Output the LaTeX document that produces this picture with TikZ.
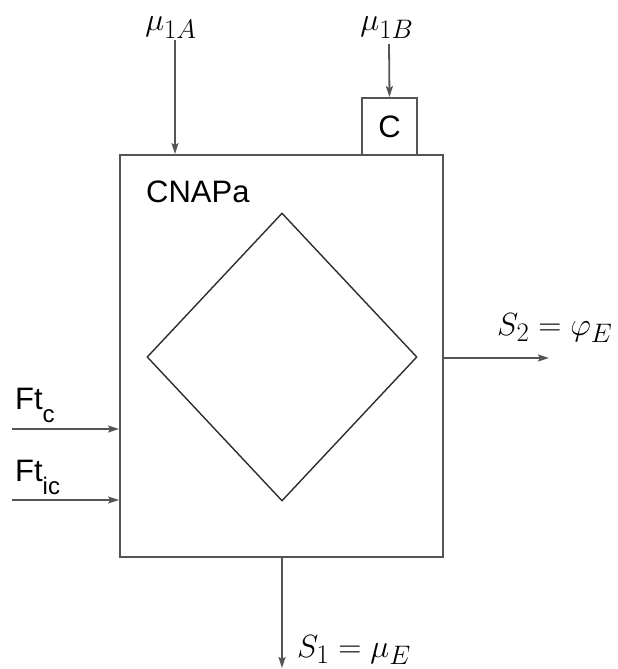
\documentclass[tikz,border=0pt]{standalone}
\usepackage[no-math]{fontspec}
\usepackage{graphicx}
\newfontfamily\labelsans{Liberation Sans}
\usetikzlibrary{arrows.meta,shapes.geometric}
\definecolor{linegray}{RGB}{85,85,85}
\definecolor{diagray}{RGB}{45,45,45}
\tikzset{
  boxstyle/.style={draw=linegray,line width=1.8pt,rectangle,inner sep=0pt},
  arr/.style={draw=linegray,line width=1.8pt,-{Stealth[length=11pt,width=7pt,inset=2pt]}},
  txt/.style={inner sep=0pt,font=\labelsans\fontsize{31}{36}\selectfont},
  mth/.style={inner sep=0pt,font=\Huge},
}
\newcommand{\subsans}[1]{\raisebox{-0.42em}{\fontsize{24}{28}\selectfont #1}}
\newcommand{\bigmath}[1]{\scalebox{1.29}{$#1$}}
\begin{document}
\begin{tikzpicture}[x=1pt,y=-1pt]
\useasboundingbox (0,0) rectangle (618,669);
% main box
\node[boxstyle,minimum width=323pt,minimum height=402pt] (box) at (281.5,356) {};
\node[txt,anchor=base west] (cnapa) at (146,202) {CNAPa};
% diamond
\node[draw=diagray,line width=1.4pt,diamond,inner sep=0pt,minimum width=270pt,minimum height=288pt] (dia) at (282,357) {};
% C box
\node[boxstyle,minimum width=55pt,minimum height=57pt,fill=white] (cbox) at (389.5,126.5) {};
\node[txt] (clab) at (cbox.center) {C};
% top inputs
\coordinate (m1Aend) at (175,40);
\coordinate (m1Bend) at (389,44);
\node[mth,anchor=base] (m1A) at (171,31) {\bigmath{\mu_{1A}}};
\node[mth,anchor=base] (m1B) at (387,31) {\bigmath{\mu_{1B}}};
\draw[arr] (m1Aend) -- (m1Aend |- box.north);
\draw[arr] (m1Bend) -- (cbox.north);
% left inputs
\coordinate (ftcend) at (12,429);
\coordinate (fticend) at (12,500);
\node[txt,anchor=base west] (ftc) at (15,409) {Ft\subsans{c}};
\node[txt,anchor=base west] (ftic) at (15,481) {Ft\subsans{ic}};
\draw[arr] (ftcend) -- (ftcend -| box.west);
\draw[arr] (fticend) -- (fticend -| box.west);
% right output
\coordinate (s2end) at (549,358);
\draw[arr] (s2end -| box.east) -- (s2end);
\node[mth,anchor=base west] (s2) at (497,335) {\bigmath{S_2=\varphi_E}};
% bottom output
\coordinate (s1end) at (282,668);
\draw[arr] (s1end |- box.south) -- (s1end);
\node[mth,anchor=base west] (s1) at (297,657) {\bigmath{S_1=\mu_E}};
\end{tikzpicture}
\end{document}
